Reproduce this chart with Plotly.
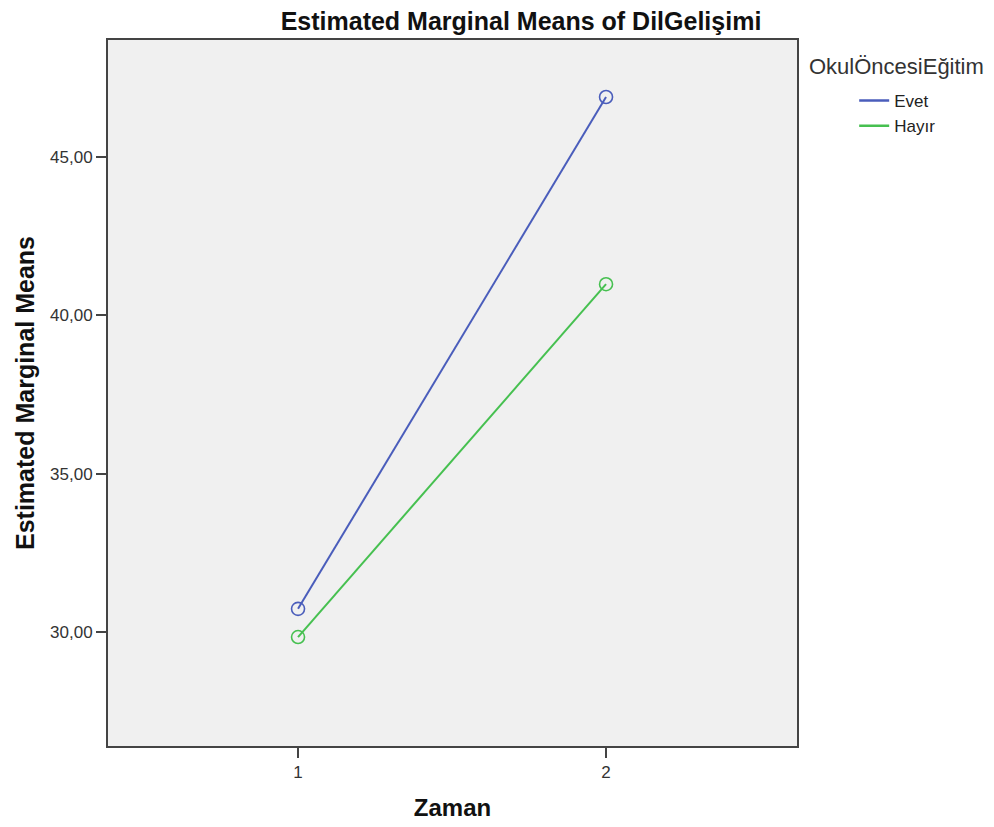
import plotly.graph_objects as go

zaman = [1, 2]
evet = [30.73, 46.89]
hayir = [29.84, 40.98]
y_ticks = [30, 35, 40, 45]
y_tick_labels = ["30,00", "35,00", "40,00", "45,00"]

FONT = "Liberation Sans, Arial, sans-serif"
C_EVET = "#4a5dbb"
C_HAYIR = "#46c050"

fig = go.Figure()
for name, vals, col in [("Evet", evet, C_EVET), ("Hayır", hayir, C_HAYIR)]:
    fig.add_trace(go.Scatter(
        x=zaman, y=vals, name=name, mode="lines+markers", showlegend=False,
        line=dict(color=col, width=2),
        marker=dict(symbol="circle-open", size=13, color=col, line=dict(width=1.6)),
    ))
    # legend entry shows only the line, as in the reference
    fig.add_trace(go.Scatter(
        x=[None], y=[None], name=name, mode="lines",
        line=dict(color=col, width=2.5),
    ))

fig.update_layout(
    width=994, height=827,
    margin=dict(l=100, r=205, t=32, b=89),
    paper_bgcolor="white",
    plot_bgcolor="#f0f0f0",
    font=dict(family=FONT, color="#222"),
    title=dict(text="<b>Estimated Marginal Means of DilGelişimi</b>",
               x=513 / 994, xanchor="center", y=1 - 13 / 827, yanchor="middle",
               font=dict(size=25, color="#111")),
    xaxis=dict(range=[0.383, 2.62], tickvals=zaman, ticktext=["1", "2"],
               showgrid=False, zeroline=False, showline=True, mirror=True,
               linecolor="#444", linewidth=2, ticks="outside", ticklen=10,
               tickwidth=2, tickcolor="#444",
               tickfont=dict(size=17, color="#333"),
               title=dict(text="<b>Zaman</b>", font=dict(size=24, color="#111"), standoff=18)),
    yaxis=dict(range=[26.4, 48.69], tickvals=y_ticks, ticktext=y_tick_labels,
               showgrid=False, zeroline=False, showline=True, mirror=True,
               linecolor="#444", linewidth=2, ticks="outside", ticklen=10,
               tickwidth=2, tickcolor="#444",
               tickfont=dict(size=17, color="#333"),
               title=dict(text="<b>Estimated Marginal Means</b>", font=dict(size=25, color="#111"), standoff=8)),
    legend=dict(x=1.083, xanchor="left", y=0.939, yanchor="top",
                font=dict(size=17, color="#222"), bgcolor="rgba(0,0,0,0)",
                tracegroupgap=0, itemwidth=30),
    showlegend=True,
    annotations=[dict(text="OkulÖncesiEğitim", xref="paper", yref="paper",
                      x=1.014, y=0.9618, xanchor="left", yanchor="middle",
                      showarrow=False, font=dict(size=22, color="#333"))],
)

fig.write_html("out.html")
